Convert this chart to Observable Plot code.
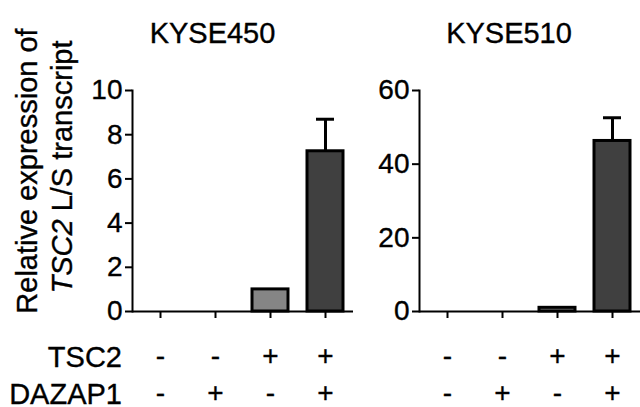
<!DOCTYPE html>
<html><head><meta charset="utf-8">
<script src="https://cdn.jsdelivr.net/npm/d3@7"></script>
<script src="https://cdn.jsdelivr.net/npm/@observablehq/plot@0.6"></script>
<style>
body{margin:0;background:#fff}
#chart{position:relative;width:640px;height:407px;overflow:hidden;font-family:"Liberation Sans",Arial,sans-serif}
#chart svg{position:absolute;top:0}
#chart svg text{stroke:#000;stroke-width:0.35px}
</style></head><body><div id="chart"></div>
<script>
// ---- data ----
const conditions = [1, 2, 3, 4];
const tsc2 = ["-", "-", "+", "+"];
const dazap1 = ["-", "+", "-", "+"];
const panels = ["KYSE450", "KYSE510"];
const kyse450Mean = [0, 0, 1, 7.25];
const kyse450Upper = [null, null, null, 8.7];
const kyse510Mean = [0, 0, 1, 46.3];
const kyse510Upper = [null, null, null, 52.6];
const kyse450Ticks = [0, 2, 4, 6, 8, 10];
const kyse510Ticks = [0, 20, 40, 60];
const yLabelLine1 = "Relative expression of";
const yLabelGene = "TSC2";
const yLabelRest = " L/S transcript";
const rowLabels = ["TSC2", "DAZAP1"];

const FONT = '"Liberation Sans", Arial, sans-serif';
const chart = document.getElementById("chart");

function panel({title, means, uppers, yMax, yTicks, width, marginLeft, marginRight, left, titleX}) {
  const rows = conditions.map((c, i) => ({c, tsc2: tsc2[i], dazap1: dazap1[i], mean: means[i], upper: uppers[i]}));
  const errs = rows.filter(d => d.upper != null);
  const svg = Plot.plot({
    width, height: 407,
    marginTop: 90, marginBottom: 96, marginLeft, marginRight,
    style: {fontFamily: FONT, fontSize: "28px", color: "#000", background: "transparent", overflow: "visible"},
    x: {domain: conditions, paddingInner: 0.35, paddingOuter: 0.175, axis: null},
    y: {domain: [0, yMax], axis: null},
    marks: [
      Plot.barY(rows.filter(d => d.mean > 0), {
        x: "c", y: "mean",
        fill: d => d.dazap1 === "+" ? "#404040" : "#858585",
        stroke: "#000", strokeWidth: 3
      }),
      Plot.ruleX(errs, {x: "c", y1: "mean", y2: "upper", stroke: "#000", strokeWidth: 3}),
      Plot.tickY(errs, {x: "c", y: "upper", stroke: "#000", strokeWidth: 3, insetLeft: 9, insetRight: 9}),
      Plot.ruleY([0], {stroke: "#000", strokeWidth: 2}),
      Plot.frame({anchor: "left", stroke: "#000", strokeWidth: 2}),
      Plot.axisY({ticks: yTicks, tickSize: 7, tickPadding: 3, strokeWidth: 2, label: null}),
      Plot.axisX({tickSize: 7, tickFormat: () => "", label: null, strokeWidth: 2}),
      Plot.text(rows, {x: "c", text: "tsc2", frameAnchor: "bottom", dy: 53, fontSize: 28}),
      Plot.text(rows, {x: "c", text: "dazap1", frameAnchor: "bottom", dy: 90, fontSize: 28}),
      Plot.text([title], {frameAnchor: "top-left", dx: titleX - marginLeft, dy: -48,
        textAnchor: "middle", lineAnchor: "bottom", fontSize: 29})
    ]
  });
  svg.style.left = left + "px";
  chart.appendChild(svg);
  return svg;
}

const s1 = panel({title: panels[0], means: kyse450Mean, uppers: kyse450Upper, yMax: 10, yTicks: kyse450Ticks,
  width: 360, marginLeft: 132, marginRight: 7, left: 0, titleX: 212});
panel({title: panels[1], means: kyse510Mean, uppers: kyse510Upper, yMax: 60, yTicks: kyse510Ticks,
  width: 280, marginLeft: 59, marginRight: 0, left: 360, titleX: 148.5});

// y label and row labels (real text)
const g = d3.select(s1).append("g").attr("font-family", FONT).attr("font-size", 29).attr("fill", "#000");
g.append("text").attr("transform", "translate(37,171) rotate(-90)").attr("text-anchor", "middle").text(yLabelLine1);
const t2 = g.append("text").attr("transform", "translate(72,167) rotate(-90)").attr("text-anchor", "middle");
t2.append("tspan").attr("font-style", "italic").text(yLabelGene);
t2.append("tspan").text(yLabelRest);
const rl = d3.select(s1).append("g").attr("font-family", FONT).attr("font-size", 29).attr("fill", "#000").attr("text-anchor", "end");
rl.append("text").attr("x", 122).attr("y", 367).text(rowLabels[0]);
rl.append("text").attr("x", 122).attr("y", 404).text(rowLabels[1]);
</script></body></html>
